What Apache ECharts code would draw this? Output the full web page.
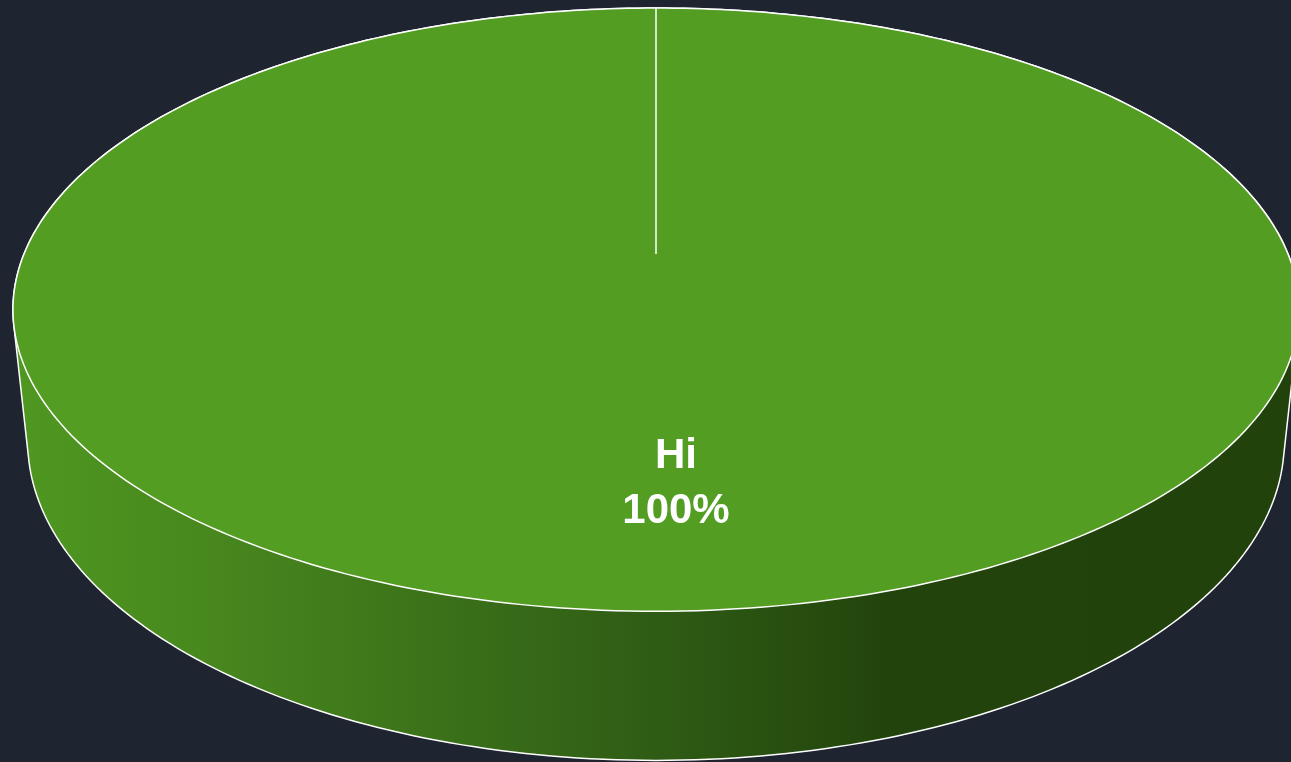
<!DOCTYPE html>
<html>
<head>
<meta charset="utf-8">
<style>
  html, body { margin: 0; padding: 0; background: #1f2431; }
  #chart { width: 1291px; height: 762px; }
</style>
<script src="https://cdn.jsdelivr.net/npm/echarts@6/dist/echarts.min.js"></script>
</head>
<body>
<div id="chart"></div>
<script>
  // data
  const categories = ['Hi'];
  const values = [100];
  const sliceColors = ['#539d23'];

  const chart = echarts.init(document.getElementById('chart'));

  // 3d pie view (perspective), radius = 1 in world units
  const view = {
    cx: 656,
    cy: 254,
    focal: 3040,
    dist: 4.81,
    alpha: 27.45 * Math.PI / 180,
    depth: 0.2374,
    labelR: 0.69,
    labelShift: 20
  };
  const total = values.reduce((s, v) => s + v, 0);

  function project(px, pz, y) {
    const sa = Math.sin(view.alpha), ca = Math.cos(view.alpha);
    const u = y * ca + pz * sa;
    const w = pz * ca - y * sa;
    return [
      view.cx + view.focal * px / (view.dist + w),
      view.cy - view.focal * u / (view.dist + w)
    ];
  }

  function arcPoints(a0, a1, y) {
    const pts = [];
    const n = Math.max(2, Math.ceil((a1 - a0) / (Math.PI * 2) * 360));
    for (let i = 0; i <= n; i++) {
      const t = a0 + (a1 - a0) * i / n;
      pts.push(project(Math.sin(t), Math.cos(t), y));
    }
    return pts;
  }

  function hull(points) {
    const p = points.slice().sort((a, b) => a[0] - b[0] || a[1] - b[1]);
    const cross = (o, a, b) => (a[0] - o[0]) * (b[1] - o[1]) - (a[1] - o[1]) * (b[0] - o[0]);
    const lower = [], upper = [];
    for (const q of p) {
      while (lower.length >= 2 && cross(lower[lower.length - 2], lower[lower.length - 1], q) <= 0) lower.pop();
      lower.push(q);
    }
    for (let i = p.length - 1; i >= 0; i--) {
      const q = p[i];
      while (upper.length >= 2 && cross(upper[upper.length - 2], upper[upper.length - 1], q) <= 0) upper.pop();
      upper.push(q);
    }
    upper.pop();
    lower.pop();
    return lower.concat(upper);
  }

  function renderSlice(params, api) {
    const idx = params.dataIndex;
    let start = 0;
    for (let i = 0; i < idx; i++) start += values[i];
    const val = api.value(0);
    const a0 = start / total * Math.PI * 2;
    const a1 = (start + val) / total * Math.PI * 2;

    const topArc = arcPoints(a0, a1, 0);
    const botArc = arcPoints(a0, a1, -view.depth);
    const wall = hull(topArc.concat(botArc));
    const center = project(0, 0, 0);

    const mid = (a0 + a1) / 2;
    const lp = project(view.labelR * Math.sin(mid), view.labelR * Math.cos(mid), 0);

    return {
      type: 'group',
      children: [
        {
          type: 'polygon',
          z2: 1,
          shape: { points: wall },
          style: {
            fill: new echarts.graphic.LinearGradient(0, 0, 1, 0, [
              { offset: 0, color: '#4f9821' },
              { offset: 0.15, color: '#48881e' },
              { offset: 0.5, color: '#2f5c15' },
              { offset: 0.68, color: '#22440c' },
              { offset: 1, color: '#21420b' }
            ]),
            stroke: '#ffffff',
            lineWidth: 1.5
          }
        },
        {
          type: 'polygon',
          z2: 2,
          shape: { points: [center].concat(topArc) },
          style: {
            fill: sliceColors[idx % sliceColors.length],
            stroke: '#ffffff',
            lineWidth: 1.5
          }
        },
        {
          type: 'text',
          z2: 3,
          x: lp[0] + view.labelShift,
          y: lp[1],
          style: {
            text: categories[idx] + '\n' + Math.round(val / total * 100) + '%',
            fill: '#ffffff',
            font: 'bold 42px "Liberation Sans", Arial, sans-serif',
            lineHeight: 55,
            align: 'center',
            verticalAlign: 'middle'
          }
        }
      ]
    };
  }

  chart.setOption({
    backgroundColor: '#1f2431',
    animation: false,
    series: [{
      type: 'custom',
      coordinateSystem: 'none',
      renderItem: renderSlice,
      data: values.map((v, i) => ({ name: categories[i], value: [v] }))
    }]
  });
</script>
</body>
</html>
